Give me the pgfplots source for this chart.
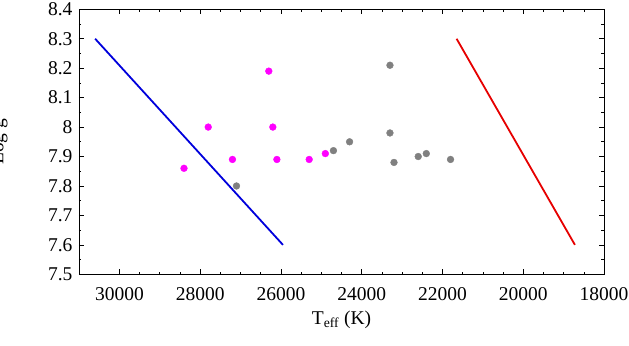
\documentclass[border=0pt]{standalone}
\usepackage{fontspec}
\setmainfont{Liberation Serif}
\usepackage{pgfplots}
\pgfplotsset{compat=1.18}
\definecolor{mag}{RGB}{255,0,255}
\definecolor{gry}{RGB}{128,128,128}
\definecolor{bl}{RGB}{0,0,220}
\definecolor{rd}{RGB}{230,0,0}
\begin{document}
\begin{tikzpicture}
\begin{axis}[name=ax,
  width=525bp, height=265bp, scale only axis,
  xmin=18000, xmax=31000, x dir=reverse,
  ymin=7.5, ymax=8.4,
  xtick={18000,20000,22000,24000,26000,28000,30000},
  xticklabels={18000,20000,22000,24000,26000,28000,30000},
  ytick={7.5,7.6,7.7,7.8,7.9,8,8.1,8.2,8.3,8.4},
  yticklabels={7.5,7.6,7.7,7.8,7.9,8,8.1,8.2,8.3,8.4},
  minor x tick num=3, minor y tick num=1,
  tick align=inside, major tick length=5bp, minor tick length=2.5bp,
  tick style={black, line width=0.6bp},
  axis line style={black, line width=0.8bp},
  scaled x ticks=false,
  x tick label style={font=\rmfamily\fontsize{19.5bp}{22bp}\selectfont, yshift=-10bp},
  y tick label style={font=\rmfamily\fontsize{19.5bp}{22bp}\selectfont, xshift=-3bp},
  xlabel={T\textsubscript{eff} (K)},
  ylabel={Log g},
  xlabel style={font=\rmfamily\fontsize{19.5bp}{22bp}\selectfont, at={(rel axis cs:0.5,-0.17)}, anchor=center},
  ylabel style={font=\rmfamily\fontsize{19.5bp}{22bp}\selectfont, at={(rel axis cs:-0.152,0.5)}, anchor=center, rotate=0},
  clip=false,
]
\addplot[bl, line width=1.8bp] coordinates {(30600,8.3) (25950,7.6)};
\addplot[rd, line width=1.8bp] coordinates {(21650,8.3) (18720,7.6)};
\addplot[only marks, mark=*, mark size=3.4bp, mag, mark options={draw=mag, fill=mag}] coordinates {
(26300,8.19) (27800,8.0) (26200,8.0) (28400,7.86) (27200,7.89) (26100,7.89) (25300,7.89) (24900,7.91)
};
\addplot[only marks, mark=*, mark size=3.4bp, gry, mark options={draw=gry, fill=gry}] coordinates {
(27100,7.80) (24700,7.92) (24300,7.95) (23300,8.21) (23300,7.98) (23200,7.88) (22600,7.90) (22400,7.91) (21800,7.89)
};
\end{axis}
\pgfresetboundingbox
\path[use as bounding box] ([shift={(-79bp,-71bp)}]ax.south west) rectangle ([shift={(25bp,9.3bp)}]ax.north east);
\end{tikzpicture}
\end{document}
